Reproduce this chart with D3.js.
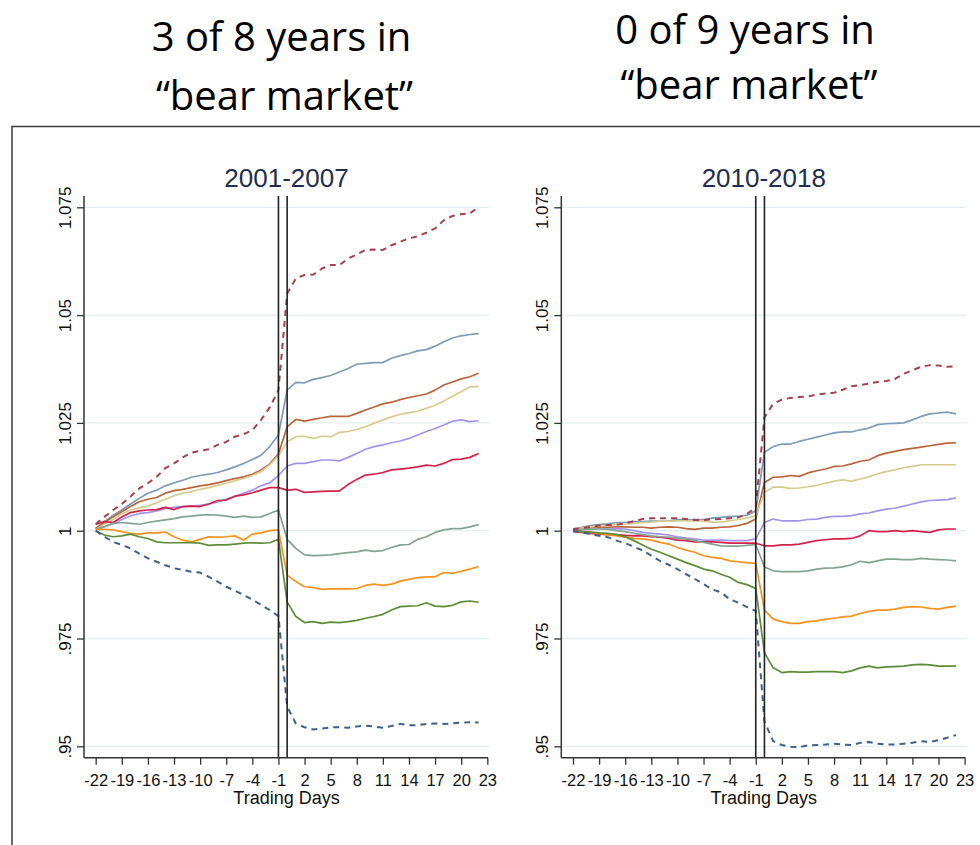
<!DOCTYPE html>
<html>
<head>
<meta charset="utf-8">
<script src="https://cdn.jsdelivr.net/npm/d3@7"></script>
<style>
    body { margin: 0; background: #ffffff; }
    svg { display: block; }
</style>
</head>
<body>
<svg id="chart"></svg>
<script>
const width = 980;
const height = 845;

// trading days around the event, ticks and labels
const days = d3.range(-22, 23);
const xTicks = d3.range(-22, 24, 3);
const yTicks = [0.95, 0.975, 1, 1.025, 1.05, 1.075];
const eventDays = [-1, 0];
const panelTitles = ["2001-2007", "2010-2018"];
const headerLeft = ["3 of 8 years in", "\u201cbear market\u201d"];
const headerRight = ["0 of 9 years in", "\u201cbear market\u201d"];

// 2001-2007 panel, cumulative index by day (-22 .. 22)
const p1DashUp = [1.0015, 1.0032, 1.0048, 1.0062, 1.0079, 1.0098, 1.0110, 1.0125, 1.0145, 1.0156, 1.0170, 1.0181, 1.0185, 1.0189, 1.0199, 1.0206, 1.0218, 1.0224, 1.0233, 1.0257, 1.0286, 1.0326,
    1.0550, 1.0585, 1.0593, 1.0594, 1.0608, 1.0616, 1.0616, 1.0631, 1.0641, 1.0651, 1.0652, 1.0651, 1.0662, 1.0670, 1.0678, 1.0683, 1.0691, 1.0701, 1.0720, 1.0730, 1.0734, 1.0736, 1.0750];
const p1Steel = [1.0005, 1.0021, 1.0036, 1.0048, 1.0062, 1.0075, 1.0087, 1.0094, 1.0104, 1.0111, 1.0117, 1.0124, 1.0128, 1.0131, 1.0135, 1.0141, 1.0148, 1.0156, 1.0165, 1.0175, 1.0195, 1.0222,
    1.0326, 1.0344, 1.0343, 1.0351, 1.0355, 1.0360, 1.0368, 1.0376, 1.0386, 1.0388, 1.0390, 1.0390, 1.0400, 1.0406, 1.0411, 1.0417, 1.0420, 1.0428, 1.0438, 1.0447, 1.0452, 1.0455, 1.0457];
const p1Sienna = [1.0005, 1.0019, 1.0032, 1.0044, 1.0056, 1.0067, 1.0073, 1.0077, 1.0087, 1.0093, 1.0096, 1.0100, 1.0104, 1.0107, 1.0111, 1.0116, 1.0121, 1.0125, 1.0131, 1.0141, 1.0155, 1.0178,
    1.0241, 1.0258, 1.0254, 1.0258, 1.0262, 1.0265, 1.0265, 1.0265, 1.0272, 1.0280, 1.0287, 1.0294, 1.0298, 1.0304, 1.0309, 1.0313, 1.0317, 1.0326, 1.0338, 1.0345, 1.0352, 1.0357, 1.0365];
const p1Khaki = [1.0003, 1.0015, 1.0026, 1.0039, 1.0048, 1.0053, 1.0057, 1.0065, 1.0073, 1.0081, 1.0087, 1.0090, 1.0096, 1.0100, 1.0105, 1.0110, 1.0116, 1.0121, 1.0128, 1.0137, 1.0153, 1.0174,
    1.0206, 1.0218, 1.0219, 1.0214, 1.0219, 1.0218, 1.0228, 1.0230, 1.0235, 1.0241, 1.0249, 1.0257, 1.0264, 1.0270, 1.0274, 1.0277, 1.0284, 1.0291, 1.0301, 1.0312, 1.0322, 1.0334, 1.0334];
const p1Lavender = [1.0002, 1.0009, 1.0017, 1.0026, 1.0034, 1.0040, 1.0042, 1.0046, 1.0051, 1.0054, 1.0056, 1.0057, 1.0059, 1.0062, 1.0066, 1.0073, 1.0080, 1.0087, 1.0094, 1.0104, 1.0111, 1.0128,
    1.0150, 1.0156, 1.0156, 1.0160, 1.0164, 1.0164, 1.0162, 1.0170, 1.0179, 1.0189, 1.0195, 1.0199, 1.0204, 1.0208, 1.0214, 1.0222, 1.0230, 1.0237, 1.0245, 1.0254, 1.0257, 1.0253, 1.0255];
const p1Cranberry = [1.0015, 1.0021, 1.0019, 1.0032, 1.0042, 1.0046, 1.0048, 1.0049, 1.0054, 1.0049, 1.0056, 1.0057, 1.0056, 1.0062, 1.0070, 1.0071, 1.0080, 1.0083, 1.0088, 1.0094, 1.0100, 1.0100,
    1.0094, 1.0096, 1.0089, 1.0090, 1.0091, 1.0092, 1.0092, 1.0107, 1.0119, 1.0129, 1.0131, 1.0135, 1.0141, 1.0143, 1.0145, 1.0148, 1.0152, 1.0150, 1.0156, 1.0165, 1.0166, 1.0170, 1.0179];
const p1Teal = [1.0003, 1.0009, 1.0017, 1.0019, 1.0017, 1.0015, 1.0019, 1.0022, 1.0025, 1.0028, 1.0032, 1.0034, 1.0036, 1.0037, 1.0036, 1.0034, 1.0031, 1.0034, 1.0031, 1.0032, 1.0040, 1.0048,
    0.9980, 0.9959, 0.9944, 0.9942, 0.9943, 0.9944, 0.9947, 0.9949, 0.9951, 0.9955, 0.9952, 0.9954, 0.9961, 0.9967, 0.9968, 0.9980, 0.9986, 0.9996, 1.0002, 1.0005, 1.0005, 1.0009, 1.0014];
const p1Orange = [1.0003, 1.0003, 1.0002, 0.9998, 0.9994, 0.9992, 0.9995, 0.9995, 0.9997, 0.9986, 0.9978, 0.9974, 0.9980, 0.9986, 0.9985, 0.9986, 0.9988, 0.9978, 0.9992, 0.9995, 1.0000, 1.0002,
    0.9897, 0.9882, 0.9870, 0.9868, 0.9864, 0.9865, 0.9865, 0.9865, 0.9866, 0.9873, 0.9876, 0.9873, 0.9876, 0.9883, 0.9887, 0.9891, 0.9893, 0.9893, 0.9903, 0.9901, 0.9906, 0.9911, 0.9917];
const p1Green = [1.0000, 0.9990, 0.9986, 0.9988, 0.9992, 0.9986, 0.9982, 0.9974, 0.9972, 0.9972, 0.9972, 0.9972, 0.9971, 0.9966, 0.9967, 0.9967, 0.9969, 0.9971, 0.9972, 0.9971, 0.9972, 0.9980,
    0.9835, 0.9801, 0.9787, 0.9789, 0.9785, 0.9788, 0.9787, 0.9789, 0.9792, 0.9797, 0.9801, 0.9806, 0.9816, 0.9824, 0.9825, 0.9826, 0.9833, 0.9825, 0.9824, 0.9827, 0.9835, 0.9837, 0.9834];
const p1DashDown = [1.0000, 0.9986, 0.9974, 0.9967, 0.9959, 0.9947, 0.9936, 0.9928, 0.9920, 0.9913, 0.9909, 0.9905, 0.9903, 0.9893, 0.9882, 0.9870, 0.9861, 0.9851, 0.9840, 0.9828, 0.9816, 0.9802,
    0.9592, 0.9553, 0.9544, 0.9539, 0.9541, 0.9544, 0.9544, 0.9543, 0.9546, 0.9548, 0.9546, 0.9543, 0.9547, 0.9552, 0.9549, 0.9549, 0.9552, 0.9553, 0.9552, 0.9553, 0.9555, 0.9556, 0.9555];

// 2010-2018 panel
const p2DashUp = [1.0004, 1.0006, 1.0009, 1.0012, 1.0013, 1.0014, 1.0017, 1.0022, 1.0027, 1.0029, 1.0029, 1.0029, 1.0029, 1.0027, 1.0025, 1.0025, 1.0026, 1.0027, 1.0029, 1.0031, 1.0039, 1.0054,
    1.0263, 1.0294, 1.0304, 1.0308, 1.0310, 1.0311, 1.0316, 1.0318, 1.0320, 1.0327, 1.0335, 1.0338, 1.0341, 1.0345, 1.0347, 1.0352, 1.0364, 1.0372, 1.0380, 1.0384, 1.0383, 1.0380, 1.0381];
const p2Steel = [1.0004, 1.0008, 1.0012, 1.0014, 1.0016, 1.0019, 1.0019, 1.0021, 1.0021, 1.0022, 1.0022, 1.0023, 1.0025, 1.0025, 1.0026, 1.0026, 1.0029, 1.0031, 1.0033, 1.0033, 1.0036, 1.0046,
    1.0182, 1.0195, 1.0201, 1.0201, 1.0207, 1.0212, 1.0217, 1.0222, 1.0227, 1.0229, 1.0229, 1.0234, 1.0238, 1.0246, 1.0248, 1.0249, 1.0250, 1.0257, 1.0265, 1.0271, 1.0273, 1.0275, 1.0271];
const p2Sienna = [1.0002, 1.0004, 1.0006, 1.0008, 1.0008, 1.0009, 1.0009, 1.0008, 1.0008, 1.0006, 1.0008, 1.0009, 1.0008, 1.0005, 1.0003, 1.0006, 1.0006, 1.0008, 1.0009, 1.0012, 1.0017, 1.0027,
    1.0112, 1.0124, 1.0125, 1.0128, 1.0126, 1.0134, 1.0139, 1.0143, 1.0149, 1.0150, 1.0155, 1.0161, 1.0164, 1.0174, 1.0180, 1.0184, 1.0188, 1.0191, 1.0194, 1.0197, 1.0200, 1.0203, 1.0204];
const p2Khaki = [1.0004, 1.0006, 1.0009, 1.0011, 1.0012, 1.0014, 1.0015, 1.0017, 1.0019, 1.0020, 1.0022, 1.0022, 1.0023, 1.0023, 1.0023, 1.0022, 1.0020, 1.0020, 1.0023, 1.0026, 1.0029, 1.0035,
    1.0089, 1.0101, 1.0101, 1.0098, 1.0099, 1.0102, 1.0105, 1.0110, 1.0115, 1.0118, 1.0115, 1.0120, 1.0125, 1.0132, 1.0137, 1.0141, 1.0146, 1.0149, 1.0153, 1.0153, 1.0153, 1.0153, 1.0153];
const p2Lavender = [1.0000, 1.0002, 1.0003, 1.0004, 1.0004, 1.0005, 1.0004, 1.0000, 0.9996, 0.9994, 0.9992, 0.9990, 0.9986, 0.9983, 0.9981, 0.9978, 0.9978, 0.9978, 0.9977, 0.9977, 0.9977, 0.9981,
    1.0019, 1.0027, 1.0023, 1.0023, 1.0023, 1.0026, 1.0027, 1.0031, 1.0033, 1.0033, 1.0035, 1.0039, 1.0041, 1.0046, 1.0050, 1.0052, 1.0057, 1.0062, 1.0067, 1.0070, 1.0071, 1.0072, 1.0076];
const p2Cranberry = [0.9998, 0.9996, 0.9994, 0.9992, 0.9991, 0.9991, 0.9989, 0.9988, 0.9988, 0.9986, 0.9985, 0.9982, 0.9978, 0.9977, 0.9974, 0.9974, 0.9974, 0.9973, 0.9971, 0.9971, 0.9971, 0.9971,
    0.9965, 0.9965, 0.9967, 0.9967, 0.9969, 0.9973, 0.9977, 0.9979, 0.9981, 0.9981, 0.9982, 0.9988, 1.0000, 0.9998, 0.9998, 1.0000, 0.9998, 1.0000, 0.9998, 0.9996, 1.0002, 1.0004, 1.0004];
const p2Teal = [1.0002, 1.0003, 1.0004, 1.0004, 1.0003, 1.0000, 0.9998, 0.9994, 0.9991, 0.9988, 0.9986, 0.9985, 0.9983, 0.9981, 0.9977, 0.9973, 0.9969, 0.9965, 0.9964, 0.9964, 0.9966, 0.9968,
    0.9916, 0.9907, 0.9905, 0.9905, 0.9905, 0.9907, 0.9911, 0.9913, 0.9914, 0.9916, 0.9921, 0.9929, 0.9926, 0.9930, 0.9934, 0.9934, 0.9933, 0.9933, 0.9936, 0.9934, 0.9933, 0.9932, 0.9930];
const p2Orange = [1.0000, 0.9998, 0.9996, 0.9994, 0.9991, 0.9988, 0.9985, 0.9982, 0.9981, 0.9978, 0.9973, 0.9969, 0.9961, 0.9955, 0.9950, 0.9942, 0.9938, 0.9936, 0.9930, 0.9928, 0.9926, 0.9924,
    0.9816, 0.9795, 0.9789, 0.9785, 0.9785, 0.9789, 0.9791, 0.9795, 0.9797, 0.9800, 0.9802, 0.9808, 0.9813, 0.9816, 0.9816, 0.9818, 0.9822, 0.9824, 0.9823, 0.9820, 0.9818, 0.9822, 0.9825];
const p2Green = [1.0000, 0.9998, 0.9997, 0.9995, 0.9994, 0.9991, 0.9986, 0.9977, 0.9967, 0.9957, 0.9950, 0.9942, 0.9934, 0.9926, 0.9919, 0.9911, 0.9907, 0.9899, 0.9892, 0.9880, 0.9875, 0.9866,
    0.9717, 0.9682, 0.9671, 0.9673, 0.9672, 0.9672, 0.9673, 0.9673, 0.9673, 0.9671, 0.9675, 0.9682, 0.9686, 0.9682, 0.9684, 0.9685, 0.9686, 0.9689, 0.9690, 0.9689, 0.9686, 0.9686, 0.9686];
const p2DashDown = [1.0000, 0.9996, 0.9992, 0.9988, 0.9985, 0.9977, 0.9971, 0.9963, 0.9954, 0.9942, 0.9930, 0.9921, 0.9911, 0.9899, 0.9888, 0.9876, 0.9864, 0.9857, 0.9841, 0.9833, 0.9823, 0.9814,
    0.9558, 0.9512, 0.9503, 0.9499, 0.9498, 0.9502, 0.9503, 0.9504, 0.9506, 0.9504, 0.9503, 0.9508, 0.9510, 0.9506, 0.9504, 0.9504, 0.9506, 0.9508, 0.9512, 0.9510, 0.9514, 0.9520, 0.9526];

// drawing order and styles, shared by both panels
const seriesColors = ["#7f9bb5", "#b9643c", "#d6cb8e", "#a394ea", "#d4214c", "#84a393", "#f7921e", "#5c8c37", "#a3414f", "#3d6189"];
const seriesDashed = [false, false, false, false, false, false, false, false, true, true];
const panelSeries = [
    [p1Steel, p1Sienna, p1Khaki, p1Lavender, p1Cranberry, p1Teal, p1Orange, p1Green, p1DashUp, p1DashDown],
    [p2Steel, p2Sienna, p2Khaki, p2Lavender, p2Cranberry, p2Teal, p2Orange, p2Green, p2DashUp, p2DashDown]
];

const font = "'Liberation Sans', Arial, Helvetica, sans-serif";
const panelShift = 477.3;

const svg = d3.select("#chart")
    .attr("width", width)
    .attr("height", height);

svg.append("rect")
    .attr("width", width)
    .attr("height", height)
    .attr("fill", "#ffffff");

// slide frame, cut off at right and bottom
svg.append("rect")
    .attr("x", 12)
    .attr("y", 126.5)
    .attr("width", 1000)
    .attr("height", 1000)
    .attr("fill", "none")
    .attr("stroke", "#3a3a3a")
    .attr("stroke-width", 1.5);

function drawHeader(lines, cx, baselines) {
    svg.selectAll(null).data(lines).enter()
        .append("text")
        .attr("x", (d, i) => cx[i])
        .attr("y", (d, i) => baselines[i])
        .attr("text-anchor", "middle")
        .attr("font-family", "'Open Sans', sans-serif")
        .attr("font-size", 40)
        .attr("fill", "#000000")
        .text(d => d);
}

drawHeader(headerLeft, [281.5, 284.5], [51, 110]);
drawHeader(headerRight, [745, 749], [43.5, 99]);

function drawPanel(seriesList, title, dx) {
    const x = d3.scaleLinear().domain([-22, 23]).range([95.7 + dx, 487.3 + dx]);
    const y = d3.scaleLinear().domain([0.95, 1.075]).range([746.3, 207.3]);
    const left = 84 + dx;
    const right = 489 + dx;
    const top = 196;
    const bottom = 757.7;

    const g = svg.append("g");

    g.selectAll("grid").data(yTicks).enter()
        .append("line")
        .attr("x1", left)
        .attr("x2", right)
        .attr("y1", d => y(d))
        .attr("y2", d => y(d))
        .attr("stroke", "#e4eef0")
        .attr("stroke-width", 1.3);

    const line = d3.line()
        .x((d, i) => x(days[i]))
        .y(d => y(d));

    g.selectAll("series").data(seriesList).enter()
        .append("path")
        .attr("d", line)
        .attr("fill", "none")
        .attr("stroke", (d, i) => seriesColors[i])
        .attr("stroke-width", (d, i) => seriesDashed[i] ? 2 : 1.7)
        .attr("stroke-dasharray", (d, i) => seriesDashed[i] ? "6,5" : null)
        .attr("stroke-linejoin", "round");

    // event window lines
    g.selectAll("event").data(eventDays).enter()
        .append("line")
        .attr("x1", d => x(d))
        .attr("x2", d => x(d))
        .attr("y1", top)
        .attr("y2", bottom)
        .attr("stroke", "#222222")
        .attr("stroke-width", 1.6);

    // axes (plain hyphen for negative days, as in Stata)
    const xAxis = g.append("g")
        .attr("transform", "translate(0," + bottom + ")")
        .call(d3.axisBottom(x).tickValues(xTicks).tickSize(7).tickPadding(10)
            .tickFormat(d => String(d)));
    xAxis.select(".domain").remove();
    xAxis.selectAll("line").attr("stroke", "#333333").attr("stroke-width", 1.3);
    xAxis.selectAll("text")
        .attr("font-family", font)
        .attr("font-size", 16.5)
        .attr("fill", "#111111");

    const yAxis = g.append("g")
        .attr("transform", "translate(" + left + ",0)")
        .call(d3.axisLeft(y).tickValues(yTicks).tickSize(7)
            .tickFormat(d => d3.format(".3~f")(d).replace(/^0\./, ".")));
    yAxis.select(".domain").remove();
    yAxis.selectAll("line").attr("stroke", "#333333").attr("stroke-width", 1.3);
    yAxis.selectAll("text")
        .attr("x", null)
        .attr("dy", null)
        .attr("text-anchor", "middle")
        .attr("transform", "translate(-13,0) rotate(-90)")
        .attr("font-family", font)
        .attr("font-size", 17)
        .attr("fill", "#111111");

    g.append("line")
        .attr("x1", left).attr("x2", left)
        .attr("y1", top).attr("y2", bottom)
        .attr("stroke", "#333333")
        .attr("stroke-width", 1.5);
    g.append("line")
        .attr("x1", left).attr("x2", 488 + dx)
        .attr("y1", bottom).attr("y2", bottom)
        .attr("stroke", "#333333")
        .attr("stroke-width", 1.5);

    g.append("text")
        .attr("x", (left + right) / 2)
        .attr("y", 187)
        .attr("text-anchor", "middle")
        .attr("font-family", font)
        .attr("font-size", 26)
        .attr("fill", "#1f2e50")
        .text(title);

    g.append("text")
        .attr("x", (left + right) / 2)
        .attr("y", 804)
        .attr("text-anchor", "middle")
        .attr("font-family", font)
        .attr("font-size", 18)
        .attr("fill", "#111111")
        .text("Trading Days");
}

panelSeries.forEach((list, i) => drawPanel(list, panelTitles[i], i * panelShift));
</script>
</body>
</html>
